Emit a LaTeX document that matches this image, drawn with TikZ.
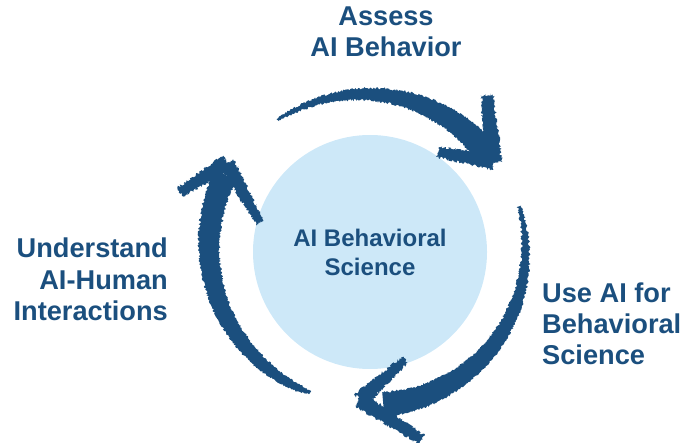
\documentclass[tikz,border=0pt]{standalone}
\usepackage{fontspec}
\setmainfont{Liberation Sans}
\usetikzlibrary{calc,decorations.pathmorphing}
\definecolor{cycleblue}{RGB}{27,79,126}
\definecolor{coreblue}{RGB}{205,232,248}
\tikzset{
  steplabel/.style={text=cycleblue, inner sep=0pt, font=\bfseries\fontsize{27.2}{31}\selectfont},
  core/.style={circle, fill=coreblue, minimum size=234pt, inner sep=0pt, align=center,
    text=cycleblue, font=\bfseries\fontsize{24}{29}\selectfont},
  brush/.style={fill=cycleblue},
  rough/.style={decorate, decoration={random steps, segment length=1pt, amplitude=1.4pt}},
}
% from angle, to angle, radius from, radius to, width from, width to, taper
\newcommand\brusharc[7]{%
  \fill[brush] plot[domain=#1:#2, samples=240, variable=\t]
    ({(#3+(#4-(#3))*((\t-(#1))/(#2-(#1))) + 0.5*(#5+(#6-(#5))*pow(max((\t-(#1))/(#2-(#1)),0.001),#7)) + 1.2*rand)*cos(\t)},
     {(#3+(#4-(#3))*((\t-(#1))/(#2-(#1))) + 0.5*(#5+(#6-(#5))*pow(max((\t-(#1))/(#2-(#1)),0.001),#7)) + 1.2*rand)*sin(\t)})
    -- plot[domain=#2:#1, samples=240, variable=\t]
    ({(#3+(#4-(#3))*((\t-(#1))/(#2-(#1))) - 0.5*(#5+(#6-(#5))*pow(max((\t-(#1))/(#2-(#1)),0.001),#7)) + 1.2*rand)*cos(\t)},
     {(#3+(#4-(#3))*((\t-(#1))/(#2-(#1))) - 0.5*(#5+(#6-(#5))*pow(max((\t-(#1))/(#2-(#1)),0.001),#7)) + 1.2*rand)*sin(\t)})
    -- cycle;}
% tip, end, half width at tip, half width at end
\newcommand\brushbarb[4]{%
  \fill[brush, rough] ($(#1)!#3!90:(#2)$) -- ($(#2)!#4!-90:(#1)$)
    -- ($(#2)!#4!90:(#1)$) -- ($(#1)!#3!-90:(#2)$) -- cycle;}
\pgfmathsetseed{11}
\begin{document}
\begin{tikzpicture}[x=1pt, y=1pt]
  \useasboundingbox (0,0) rectangle (682,442);
  \node[core] (core) at (370,190) {AI Behavioral\\Science};
  \node[steplabel, align=center, anchor=base] (assess) at (386,385) {Assess\\AI Behavior};
  \node[steplabel, align=right, anchor=base east] (understand) at (168,122) {Understand\\AI-Human\\Interactions};
  \node[steplabel, align=left, anchor=base west] (use) at (542,78) {Use AI for\\Behavioral\\Science};

  \begin{scope}[shift={(core.center)}]
    \brusharc{125}{40}{161}{153}{3}{26}{1}
    \brusharc{17}{-85}{156}{153}{3}{25}{0.85}
    \brusharc{247}{152}{153}{164}{2}{24}{0.5}
  \end{scope}

  \coordinate (assess tip) at (494,280);
  \coordinate (use tip) at (360,42);
  \coordinate (understand tip) at (227,279);
  \brushbarb{assess tip}{487,347}{8pt}{6pt}
  \brushbarb{assess tip}{438,290}{8pt}{5pt}
  \brushbarb{use tip}{405,82}{8pt}{4pt}
  \brushbarb{use tip}{422,2}{8pt}{5pt}
  \brushbarb{understand tip}{180,250}{8pt}{5pt}
  \brushbarb{understand tip}{260,219}{7.5pt}{4pt}
\end{tikzpicture}
\end{document}
